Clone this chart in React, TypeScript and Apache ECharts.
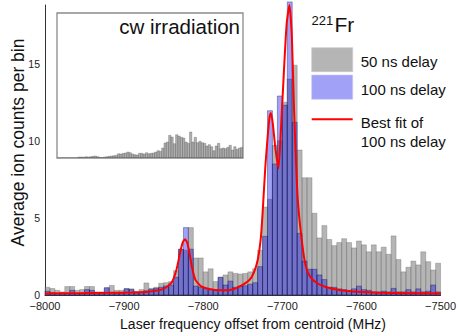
import React, { useEffect, useRef } from "react";
import * as echarts from "echarts";

// Histogram binning (shared by main plot and inset)
const BIN_START = -8000;
const BIN_WIDTH = 6.25;

// Average ion counts per bin, 50 ns delay (gray)
const GRAY_50NS = [
  0.5, 0.42, 0.3, 0.2, 0.55, 0.55, 0.3, 0.35, 0.55, 0.55,
  0.2, 0.2, 0.45, 0.62, 0.3, 0.3, 0.42, 0.4, 0.2, 0.35,
  0.78, 0.43, 0.5, 0.76, 0.8, 0.87, 1.58, 2.97, 2.9, 4.37,
  2.4, 2.4, 1.5, 1.7, 0.87, 1.15, 1.3, 1.5, 1.4, 1.36,
  1.4, 1.5, 1.7, 2.9, 5.7, 6.2, 9.7, 10.0, 12.5, 14.0,
  14.9, 9.4, 7.6, 7.6, 5.3, 3.7, 4.5, 3.6, 3.2, 3.4,
  3.65, 3.4, 3.05, 3.5, 3.25, 2.8, 3.25, 2.8, 3.1, 2.64,
  3.83, 2.3, 1.5, 1.8, 2.2, 1.95, 2.8, 2.16, 1.62, 2.06,
];

// Average ion counts per bin, 100 ns delay (blue)
const BLUE_100NS = [
  0.25, 0.15, 0.1, 0.12, 0.1, 0.3, 0.1, 0.1, 0.35, 0.3,
  0.1, 0.1, 0.48, 0.15, 0.1, 0.1, 0.4, 0.35, 0.1, 0.15,
  0.28, 0.37, 0.43, 0.5, 0.58, 0.65, 1.15, 2.97, 4.37, 2.97,
  0.58, 0.5, 0.43, 0.37, 0.32, 1.15, 0.65, 0.9, 0.5, 0.58,
  0.6, 0.7, 0.8, 1.84, 3.8, 11.95, 8.5, 12.9, 12.3, 19.0,
  11.2, 4.0, 2.2, 1.67, 1.67, 1.3, 1.0, 0.5, 0.5, 0.4,
  0.35, 0.3, 0.4, 0.58, 0.35, 0.3, 0.2, 0.2, 0.25, 0.2,
  0.43, 0.2, 0.2, 0.35, 0.2, 0.4, 0.2, 0.25, 0.65, 0.2,
];

// Inset: cw irradiation histogram (arbitrary units)
const CW_IRRADIATION = [
  0, 0, 0, 0, 0, 0, 0, 0, 0, 0.1,
  0.1, 0.07, 0.13, 0.1, 0.13, 0.17, 0.2, 0.13, 0.07, 0.03,
  0.1, 0.13, 0.17, 0.2, 0.23, 0.27, 0.43, 0.4, 0.47, 0.5,
  0.6, 0.53, 0.4, 0.33, 0.3, 0.47, 0.47, 0.4, 0.53, 0.43,
  0.47, 0.5, 0.6, 0.73, 0.67, 1.0, 1.5, 1.6, 2.27, 2.1,
  1.43, 2.33, 2.2, 2.07, 2.0, 1.6, 1.47, 2.6, 1.6, 2.07,
  1.53, 1.67, 1.53, 1.47, 1.2, 1.33, 1.13, 0.73, 1.2, 1.47,
  0.93, 1.0, 0.93, 1.07, 1.27, 0.8, 1.13, 0.87, 1.0, 1.07,
];

// Best fit of 100 ns delay
const FIT_X = [
  -8000, -7960, -7920, -7890, -7869, -7850, -7840, -7834, -7829, -7826,
  -7823, -7820, -7817, -7814, -7810, -7803, -7791, -7778, -7766, -7755,
  -7742, -7736, -7731, -7727, -7724.5, -7721.5, -7718.5, -7716, -7714.5, -7712,
  -7709, -7705, -7702, -7698, -7694.5, -7691, -7688, -7685.5, -7683, -7680.5,
  -7676, -7671, -7665, -7656, -7644, -7629, -7604, -7578, -7540, -7500,
];
const FIT_Y = [
  0.1, 0.12, 0.14, 0.17, 0.21, 0.4, 0.8, 1.6, 2.8, 3.4,
  3.62, 3.35, 2.6, 1.75, 1.0, 0.58, 0.37, 0.3, 0.32, 0.52,
  0.95, 1.45, 2.3, 3.8, 5.7, 8.3, 10.3, 11.6, 11.8, 11.1,
  9.6, 8.2, 10.5, 14.5, 17.6, 18.8, 16.8, 12.5, 9.0, 6.2,
  3.8, 2.0, 1.2, 0.76, 0.5, 0.33, 0.21, 0.15, 0.12, 0.1,
];

const X_TICKS = [-8000, -7900, -7800, -7700, -7600, -7500];
const Y_TICKS = [0, 5, 10, 15];

const FONT = "'Liberation Sans', Arial, Helvetica, sans-serif";
const GRAY_FILL = "rgba(120,120,120,0.55)";
const GRAY_STROKE = "rgba(95,95,95,0.55)";
const BLUE_FILL = "rgba(0,0,235,0.37)";
const BLUE_STROKE = "rgba(10,10,70,0.5)";
const RED = "#ff0000";

function binData(values: number[]) {
  return values.map((v, i) => [BIN_START + i * BIN_WIDTH, BIN_START + (i + 1) * BIN_WIDTH, v]);
}

function histRender(fill: string, stroke: string, lw: number) {
  return (params: any, api: any) => {
    const a = api.coord([api.value(0), api.value(2)]);
    const b = api.coord([api.value(1), 0]);
    return {
      type: "rect",
      shape: { x: a[0], y: a[1], width: b[0] - a[0], height: b[1] - a[1] },
      style: { fill, stroke, lineWidth: lw },
    };
  };
}

function fmtMinus(v: number) {
  return v < 0 ? "\u2212" + Math.abs(v) : String(v);
}

export default function App() {
  const ref = useRef<HTMLDivElement>(null);
  useEffect(() => {
    const chart = echarts.init(ref.current!, null, { renderer: "svg" });
    const option: any = {
      animation: false,
      backgroundColor: "#ffffff",
      textStyle: { fontFamily: FONT },
      grid: [
        { left: 45, top: 5, width: 397, height: 290, containLabel: false },
        {
          left: 57, top: 13, width: 186, height: 145,
          show: true, borderColor: "#8a8a8a", borderWidth: 1.3, backgroundColor: "transparent",
        },
      ],
      xAxis: [
        {
          type: "value", gridIndex: 0, min: -8000, max: -7500, interval: 100,
          axisLine: { show: true, onZero: false, lineStyle: { color: "#333", width: 1 } },
          axisTick: { show: false },
          splitLine: { show: false },
          axisLabel: {
            margin: 5, fontSize: 11, color: "#222", fontFamily: FONT,
            formatter: (v: number) => (X_TICKS.includes(v) ? fmtMinus(v) : ""),
          },
        },
        { type: "value", gridIndex: 1, min: -8000, max: -7500, show: false },
      ],
      yAxis: [
        {
          type: "value", gridIndex: 0, min: 0, max: 18.8, interval: 5,
          axisLine: { show: true, lineStyle: { color: "#333", width: 1 } },
          axisTick: { show: false },
          splitLine: { show: false },
          axisLabel: {
            margin: 5, fontSize: 10.5, color: "#222", fontFamily: FONT, showMaxLabel: false,
            formatter: (v: number) => (Y_TICKS.includes(v) ? String(v) : ""),
          },
        },
        { type: "value", gridIndex: 1, min: 0, max: 14.5, show: false },
      ],
      series: [
        {
          name: "cw irradiation", type: "custom", xAxisIndex: 1, yAxisIndex: 1,
          renderItem: histRender("rgba(120,120,120,0.6)", "rgba(80,80,80,0.6)", 0.5),
          encode: { x: [0, 1], y: 2 }, data: binData(CW_IRRADIATION), clip: true,
        },
        {
          name: "50 ns delay", type: "custom", xAxisIndex: 0, yAxisIndex: 0,
          renderItem: histRender(GRAY_FILL, GRAY_STROKE, 0.6),
          encode: { x: [0, 1], y: 2 }, data: binData(GRAY_50NS), clip: false,
        },
        {
          name: "100 ns delay", type: "custom", xAxisIndex: 0, yAxisIndex: 0,
          renderItem: histRender(BLUE_FILL, BLUE_STROKE, 0.7),
          encode: { x: [0, 1], y: 2 }, data: binData(BLUE_100NS), clip: false,
        },
        {
          name: "Best fit of 100 ns delay", type: "line", xAxisIndex: 0, yAxisIndex: 0,
          data: FIT_X.map((x, i) => [x, FIT_Y[i]]),
          showSymbol: false, smooth: 0.2,
          lineStyle: { color: RED, width: 2 }, z: 5,
        },
      ],
      graphic: [
        {
          type: "text", x: 240, y: 26,
          style: { text: "cw irradiation", fontSize: 20.5, fontFamily: FONT, fill: "#111", align: "right", verticalAlign: "middle" },
        },
        {
          type: "text", x: 311.5, y: 20,
          style: { text: "221", fontSize: 13, fontFamily: FONT, fill: "#111", align: "left", verticalAlign: "middle" },
        },
        {
          type: "text", x: 334.5, y: 24,
          style: { text: "Fr", fontSize: 21, fontFamily: FONT, fill: "#111", align: "left", verticalAlign: "middle" },
        },
        {
          type: "rect", shape: { x: 311.7, y: 47.7, width: 41, height: 24 },
          style: { fill: GRAY_FILL, stroke: "rgba(200,200,200,0.8)", lineWidth: 0.8 },
        },
        {
          type: "rect", shape: { x: 311.7, y: 75, width: 41, height: 24.3 },
          style: { fill: BLUE_FILL, stroke: "rgba(200,200,250,0.8)", lineWidth: 0.8 },
        },
        {
          type: "line", shape: { x1: 311.7, y1: 119.3, x2: 352.7, y2: 119.3 },
          style: { stroke: RED, lineWidth: 2 },
        },
        {
          type: "text", x: 360.7, y: 61,
          style: { text: "50 ns delay", fontSize: 15, fontFamily: FONT, fill: "#111", align: "left", verticalAlign: "middle" },
        },
        {
          type: "text", x: 360.7, y: 89.3,
          style: { text: "100 ns delay", fontSize: 15, fontFamily: FONT, fill: "#111", align: "left", verticalAlign: "middle" },
        },
        {
          type: "text", x: 360.7, y: 122.7,
          style: { text: "Best fit of", fontSize: 15, fontFamily: FONT, fill: "#111", align: "left", verticalAlign: "middle" },
        },
        {
          type: "text", x: 360.7, y: 141.7,
          style: { text: "100 ns delay", fontSize: 15, fontFamily: FONT, fill: "#111", align: "left", verticalAlign: "middle" },
        },
        {
          type: "text", x: 18, y: 142.5, rotation: Math.PI / 2,
          style: { text: "Average ion counts per bin", fontSize: 17.5, fontFamily: FONT, fill: "#111", align: "center", verticalAlign: "middle" },
        },
        {
          type: "text", x: 253, y: 323.5,
          style: { text: "Laser frequency offset from centroid (MHz)", fontSize: 14, fontFamily: FONT, fill: "#111", align: "center", verticalAlign: "middle" },
        },
      ],
    };
    chart.setOption(option);
    return () => chart.dispose();
  }, []);
  return (
    <div
      ref={ref}
      style={{ position: "fixed", left: 0, top: 0, width: 459, height: 336, background: "#fff" }}
    />
  );
}
